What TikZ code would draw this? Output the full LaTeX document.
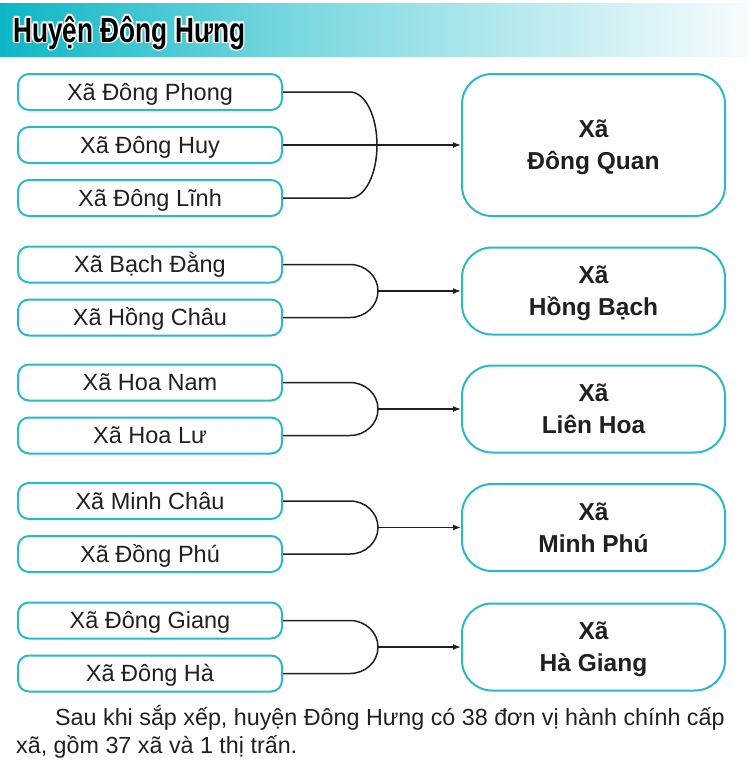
\documentclass[tikz,border=0pt]{standalone}
\usepackage{fontspec}
\setmainfont{Liberation Sans}
\usetikzlibrary{arrows.meta}
\definecolor{boxc}{HTML}{2BB9C7}
\definecolor{bannerA}{HTML}{0DB6C5}
\definecolor{bannerB}{HTML}{7BD8E0}
\definecolor{bannerC}{HTML}{F7FCFD}
\definecolor{ink}{HTML}{231F20}
\pgfdeclarehorizontalshading{bannershade}{100bp}{color(0bp)=(bannerA); color(25bp)=(bannerA); color(45bp)=(bannerB); color(75bp)=(bannerC); color(100bp)=(bannerC)}
\newcommand{\titletext}{\scalebox{0.75}[1]{Huyện Đông Hưng}}
\begin{document}
\begin{tikzpicture}[x=1pt,y=-1pt,
  src/.style={draw=boxc, line width=2pt, rounded corners=11pt, minimum width=264pt, minimum height=36pt, inner sep=0pt, text height=16.8pt, text depth=0pt, font=\fontsize{23.5}{28}\selectfont, text=ink},
  dst/.style={draw=boxc, line width=2pt, rounded corners=30pt, minimum width=263pt, minimum height=87pt, inner sep=0pt, align=center, font=\fontsize{24.5}{32}\selectfont\bfseries, text=ink},
  link/.style={draw=ink, line width=1.5pt},
  arr/.style={link, -{Latex[length=8pt,width=6pt]}},
  body/.style={anchor=base west, inner sep=0pt, font=\fontsize{23.3}{28}\selectfont, text=ink},
  ttl/.style={anchor=base west, inner sep=0pt, font=\fontsize{35}{35}\selectfont\bfseries}]
\useasboundingbox (0,0) rectangle (749,761);
% banner
\shade[shading=bannershade] (0,3) rectangle (749,56);
\foreach \dx/\dy [count=\i] in {1.5/0,-1.5/0,0/1.5,0/-1.5,1.1/1.1,1.1/-1.1,-1.1/1.1,-1.1/-1.1}
  \node[ttl, text=white] (tout\i) at (13+\dx,42+\dy) {\titletext};
\node[ttl, text=black] (title) at (13,42) {\titletext};

% group 1
\node[src] (a1) at (150,92) {Xã Đông Phong};
\node[src] (a2) at (150,145) {Xã Đông Huy};
\node[src] (a3) at (150,198) {Xã Đông Lĩnh};
\node[dst, minimum height=142pt] (d1) at (593.5,145) {\rule{0pt}{17.5pt}\smash{Xã}\\\smash{Đông Quan}};
\coordinate (m1) at (377,145);
\draw[link] (a1.east) -- ++(67,0) .. controls +(15,0) and +(0,-29.3) .. (m1) .. controls +(0,29.3) and +(15,0) .. ++(-27,53) -- (a3.east);
\draw[arr] (a2.east) -- (d1.west);

% group 2
\node[src] (b1) at (150,264.5) {Xã Bạch Đằng};
\node[src] (b2) at (150,317.5) {Xã Hồng Châu};
\node[dst] (d2) at (593.5,291) {\rule{0pt}{17.5pt}\smash{Xã}\\\smash{Hồng Bạch}};
\coordinate (m2) at (378,291);
\draw[link] (b1.east) -- ++(67,0) .. controls +(15.5,0) and +(0,-14.6) .. (m2) .. controls +(0,14.6) and +(15.5,0) .. ++(-28,26.5) -- (b2.east);
\draw[arr] (m2) -- (d2.west);

% group 3
\node[src] (c1) at (150,382.5) {Xã Hoa Nam};
\node[src] (c2) at (150,435.5) {Xã Hoa Lư};
\node[dst] (d3) at (593.5,409) {\rule{0pt}{17.5pt}\smash{Xã}\\\smash{Liên Hoa}};
\coordinate (m3) at (378,409);
\draw[link] (c1.east) -- ++(67,0) .. controls +(15.5,0) and +(0,-14.6) .. (m3) .. controls +(0,14.6) and +(15.5,0) .. ++(-28,26.5) -- (c2.east);
\draw[arr] (m3) -- (d3.west);

% group 4
\node[src] (e1) at (150,501) {Xã Minh Châu};
\node[src] (e2) at (150,554) {Xã Đồng Phú};
\node[dst] (d4) at (593.5,527.5) {\rule{0pt}{17.5pt}\smash{Xã}\\\smash{Minh Phú}};
\coordinate (m4) at (378,527.5);
\draw[link] (e1.east) -- ++(67,0) .. controls +(15.5,0) and +(0,-14.6) .. (m4) .. controls +(0,14.6) and +(15.5,0) .. ++(-28,26.5) -- (e2.east);
\draw[arr] (m4) -- (d4.west);

% group 5
\node[src] (f1) at (150,620.5) {Xã Đông Giang};
\node[src] (f2) at (150,673.5) {Xã Đông Hà};
\node[dst] (d5) at (593.5,647) {\rule{0pt}{17.5pt}\smash{Xã}\\\smash{Hà Giang}};
\coordinate (m5) at (378,647);
\draw[link] (f1.east) -- ++(67,0) .. controls +(15.5,0) and +(0,-14.6) .. (m5) .. controls +(0,14.6) and +(15.5,0) .. ++(-28,26.5) -- (f2.east);
\draw[arr] (m5) -- (d5.west);

% bottom text
\node[body] (p1) at (55,725) {Sau khi sắp xếp, huyện Đông Hưng có 38 đơn vị hành chính cấp};
\node[body] (p2) at (16,753) {xã, gồm 37 xã và 1 thị trấn.};
\end{tikzpicture}
\end{document}
